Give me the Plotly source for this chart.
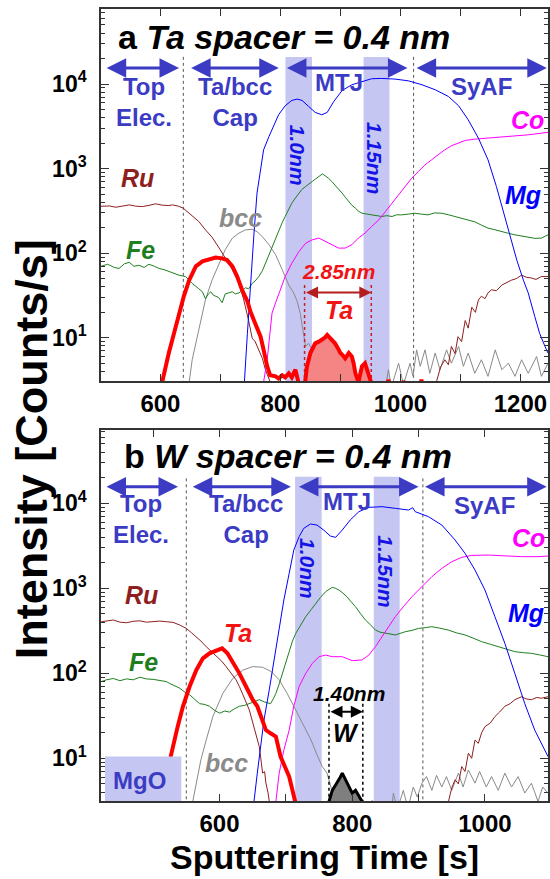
import numpy as np
import plotly.graph_objects as go

# ---------------- Panel a (Ta spacer) ----------------
RU_A_X = [480, 501, 515, 526, 537, 548, 559, 570, 581, 592, 603, 614, 620, 630, 638, 648, 656, 664, 675, 686, 698, 708, 720, 731, 739, 747, 753, 758, 764, 770, 775, 783, 795,
          1050, 1060, 1067, 1074, 1080, 1085, 1091, 1096, 1102, 1108, 1113, 1119, 1125, 1130, 1135, 1141, 1146, 1152, 1160, 1169, 1177, 1185, 1193, 1202, 1210, 1218, 1226, 1235, 1246]
RU_A_Y = [356, 356, 362, 350, 365, 373, 360, 356, 368, 384, 370, 366, 373, 360, 341, 297, 265, 237, 189, 155, 115, 87, 64, 44, 28, 16, 9.9, 9.0, 7.2, 5.7, 4.2, 3.0, 2.0,
          2.0, 3.0, 4.5, 5.5, 4.8, 7.9, 6.5, 10.3, 9.0, 16, 13, 23, 20, 28, 31, 29, 34, 37, 36, 42, 45, 48, 50, 55, 52, 51, 49, 53, 53]

FE_A_X = [501, 512, 523, 531, 540, 548, 556, 564, 573, 581, 590, 598, 606, 614, 623, 631, 642, 653, 664, 670, 675, 680, 684, 688, 692, 697, 703, 708, 714, 720,
          725, 731, 736, 742, 747, 753, 758, 764, 770, 775, 781, 786, 792, 797, 803, 808, 814, 819, 825, 831, 836, 842, 847, 853, 858, 864, 870, 875, 880, 886,
          891, 897, 903, 908, 914, 919, 925, 930, 936, 944, 952, 960, 969, 977, 986, 994, 1002, 1013, 1024, 1035, 1046, 1057, 1069, 1080, 1091, 1102, 1113, 1124,
          1135, 1146, 1157, 1168, 1180, 1191, 1202, 1213, 1224, 1235, 1246]
FE_A_Y = [70, 74, 68, 66, 75, 78, 70, 72, 68, 74, 70, 66, 64, 61, 58, 55, 53, 44, 38, 35, 29, 33, 35, 32, 31, 30, 26, 33, 34, 35,
          33, 34, 36, 39, 38, 44, 47, 53, 62, 76, 95, 120, 150, 189, 230, 272, 330, 391, 450, 513, 570, 615, 660, 705, 750, 807, 868, 820, 772, 700,
          644, 580, 513, 460, 408, 370, 341, 315, 297, 290, 284, 280, 272, 278, 272, 285, 284, 290, 297, 290, 284, 300, 297, 285, 272, 262, 245, 235,
          215, 198, 190, 180, 172, 165, 160, 157, 150, 151, 165]

BCC_A_X = [640, 648, 653, 659, 667, 675, 686, 698, 708, 720, 731, 742, 753, 761, 770, 781, 792, 803, 814, 822, 828, 833, 836, 839, 842, 847, 853, 861, 869, 875,
           880, 889, 897, 903, 911, 920, 960, 975, 980, 985, 997, 1005, 1016, 1021, 1027, 1033, 1041, 1049, 1058, 1066, 1077, 1085, 1097, 1105, 1113, 1124,
           1135, 1146, 1158, 1169, 1180, 1191, 1202, 1213, 1227, 1235, 1246]
BCC_A_Y = [2, 3.0, 5.5, 8.6, 16, 28, 48, 76, 110, 151, 173, 189, 192, 180, 157, 126, 96, 64, 42, 34, 27, 19.5, 14, 11.3, 7.9, 8.6, 7.2, 8.6, 7.2, 4.6,
           5.5, 4.2, 3.1, 4.6, 3.1, 2.2, 2.2, 2.5, 4.2, 2.6, 5.0, 2.8, 5.0, 3.5, 7.2, 4.6, 7.2, 3.8, 6.6, 4.2, 7.2, 5.0, 7.9, 4.6, 6.6, 3.8,
           5.5, 3.5, 7.2, 4.2, 5.0, 3.5, 5.5, 3.8, 6.0, 3.5, 5.0]

CO_A_X = [770, 772, 778, 783, 786, 792, 800, 808, 819, 831, 842, 853, 864, 875, 886, 897, 908, 919, 930, 941, 952, 964, 975, 986, 997, 1008, 1019, 1030,
          1041, 1052, 1063, 1074, 1085, 1097, 1108, 1124, 1146, 1169, 1191, 1213, 1235, 1246]
CO_A_Y = [2, 3.0, 5.5, 11.3, 19.5, 26, 37, 53, 76, 105, 131, 144, 151, 137, 126, 115, 115, 126, 151, 173, 207, 248, 311, 391, 490, 615, 772, 925,
          1109, 1273, 1459, 1671, 1864, 2004, 2155, 2234, 2296, 2360, 2448, 2513, 2630, 2690]

MG_A_X = [735, 740, 745, 750, 756, 761, 767, 772, 781, 789, 797, 808, 819, 828, 836, 847, 858, 869, 878, 889, 903, 919, 936, 952, 969, 991, 1013, 1036,
          1058, 1080, 1097, 1113, 1130, 1146, 1160, 1171, 1182, 1194, 1205, 1213, 1224, 1232, 1241, 1246]
MG_A_Y = [2, 3.0, 11.3, 44, 173, 513, 1062, 1671, 2404, 3304, 4336, 5546, 6412, 6643, 6412, 5445, 4624, 4336, 4624, 6237, 8414, 9816, 10760, 11570, 11670,
          11460, 10940, 9816, 8570, 7141, 5546, 3786, 2296, 1273, 615, 326, 173, 83, 48, 34, 17.8, 11.3, 7.9, 6.6]

TA_A_X = [590, 603, 614, 623, 631, 639, 648, 659, 670, 681, 692, 703, 711, 720, 728, 736, 745, 750, 756, 761, 767, 772, 778, 783, 792, 797, 803, 808, 814,
          819, 825, 830, 835, 840, 844, 850, 854, 858, 864, 869, 874, 878, 883, 887, 891, 896, 900, 904, 908, 914, 919, 922, 925, 930, 936, 941, 947, 951,
          955, 975, 980, 985, 1000, 1005, 1012, 1030, 1035, 1040, 1250]
TA_A_Y = [2, 3.0, 6.6, 11.3, 19.5, 31, 48, 70, 80, 85, 89, 87, 83, 70, 53, 37, 27, 20.4, 16.3, 13.6, 10.3, 7.2, 4.6, 3.6, 3.5, 3.3, 3.6, 3.4, 3.8,
          3.4, 4.2, 3.0, 2.0, 2.5, 4.5, 6.6, 7.5, 8.6, 9.0, 9.4, 10, 10.8, 9.9, 9.5, 8.6, 7.5, 6.6, 6.2, 5.7, 6.6, 6.0, 5.0, 3.8, 3.0, 4.6, 5.0, 3.8, 3.0,
          2.0, 2.0, 3.2, 2.2, 2.0, 3.1, 2.2, 2.0, 3.2, 2.0, 2.0]
TA_A_WINDOW = [840, 951]   # 2.85 nm Ta spacer region

# ---------------- Panel b (W spacer) ----------------
RU_B_X = [422, 430, 440, 450, 460, 470, 480, 490, 500, 510, 520, 530, 540, 550, 558, 565, 572, 580, 588, 595, 603, 610, 618, 625, 630, 635, 640, 645,
          652, 656, 660, 663, 665, 668, 670, 673, 676, 680,
          940, 945, 950, 955, 960, 965, 970, 975, 980, 985, 990, 995, 1000, 1008, 1015, 1022, 1030, 1038, 1045, 1055, 1062, 1070, 1078, 1085, 1095]
RU_B_Y = [405, 415, 424, 400, 394, 410, 415, 400, 405, 412, 405, 398, 371, 338, 300, 270, 240, 206, 180, 157, 140, 120, 100, 84, 70, 58, 46, 37,
          24, 18, 13.7, 9, 6.7, 7, 5.1, 4, 2.8, 2,
          2, 3.1, 4.5, 5.6, 5, 8.0, 7, 11.5, 10, 16.4, 15, 20, 23.6, 26, 31, 35, 41, 44, 49, 53, 50, 49, 52, 51, 53]

FE_B_X = [422, 430, 440, 450, 460, 470, 480, 490, 500, 510, 520, 525, 532, 540, 548, 555, 562, 570, 578, 585, 592, 600, 608, 615, 622, 630, 638, 645,
          652, 660, 668, 677, 681, 685, 690, 695, 700, 705, 710, 715, 722, 730, 738, 745, 752, 760, 765, 770, 775, 780, 786, 792, 798, 805, 812, 820,
          828, 835, 842, 850, 858, 865, 872, 880, 890, 900, 910, 920, 932, 945, 957, 970, 982, 995, 1008, 1020, 1032, 1045, 1058, 1070, 1082, 1095]
FE_B_Y = [80, 84, 87, 82, 86, 84, 90, 86, 85, 82, 80, 76, 72, 67, 60, 56, 50, 44, 43, 41, 37, 34, 36, 35, 38, 41, 42, 44,
          46, 49, 46, 44, 50, 58, 75, 100, 140, 188, 240, 296, 370, 465, 560, 667, 780, 915, 980, 1028, 1000, 956, 880, 797, 700, 608, 510, 424,
          370, 323, 305, 296, 290, 283, 295, 309, 320, 338, 345, 354, 340, 323, 300, 283, 260, 236, 220, 206, 192, 180, 175, 172, 165, 157]

BCC_B_X = [555, 560, 565, 572, 580, 590, 605, 620, 635, 650, 665, 678, 690, 702, 715, 728, 738, 748, 755, 762, 768, 772, 780, 825, 830, 835, 858, 862,
           868, 877, 884, 892, 898, 905, 912, 920, 927, 935, 942, 950, 960, 967, 975, 985, 992, 1002, 1010, 1020, 1030, 1040, 1050, 1060, 1070, 1080, 1087, 1095]
BCC_B_Y = [2, 3.1, 5.1, 9.6, 16.4, 31, 58, 87, 109, 120, 118, 105, 84, 58, 37, 23.6, 16.4, 10.5, 8.0, 6.7, 4.6, 3.1, 2.0, 2.0, 3.2, 2.0, 2.0, 3.9,
           2.5, 4.2, 2.6, 4.6, 3.5, 5.1, 6.1, 4.2, 6.3, 4.6, 6.1, 4.2, 6.7, 4.6, 7.3, 5.1, 7.0, 4.6, 6.1, 4.2, 6.7, 4.6, 6.1, 3.9, 5.1, 3.1, 4.6, 3.9]

CO_B_X = [680, 685, 690, 697, 705, 712, 720, 730, 740, 750, 760, 770, 785, 800, 815, 825, 835, 845, 855, 865, 877, 890, 905, 920, 935, 950, 965, 980,
          1005, 1030, 1055, 1080, 1095]
CO_B_Y = [2, 3.1, 6.7, 12.5, 21.5, 41, 70, 100, 131, 157, 164, 157, 157, 141, 144, 164, 206, 270, 354, 465, 608, 797, 1047, 1371, 1718, 2059, 2317, 2444,
          2466, 2399, 2360, 2360, 2399]

MG_B_X = [648, 652, 657, 662, 667, 675, 682, 690, 697, 705, 712, 720, 727, 737, 747, 757, 767, 775, 785, 797, 810, 825, 845, 865, 885, 891, 895, 915,
          935, 955, 970, 985, 1000, 1015, 1030, 1045, 1060, 1075, 1085, 1095]
MG_B_Y = [2, 3.1, 6.7, 13.7, 28, 64, 144, 324, 729, 1500, 2825, 4056, 5082, 5715, 5559, 4853, 4130, 3983, 4853, 6370, 7980, 8974, 9142, 8736, 8353, 8900,
          7980, 6965, 5559, 3707, 2582, 1644, 956, 465, 225, 100, 44, 21.5, 15, 10.5]

TA_B_X = [490, 500, 510, 520, 527, 532, 537, 545, 555, 565, 575, 585, 595, 604, 612, 620, 630, 640, 650, 657, 662, 670, 677, 685, 692, 700, 705, 710, 715, 720]
TA_B_Y = [2, 3.2, 4, 6, 10.9, 16.4, 23.6, 41, 70, 109, 150, 172, 185, 197, 172, 137, 100, 70, 49, 41, 31, 21.5, 19.7, 18, 10.5, 7.6, 6.1, 4.2, 3.1, 2]

W_B_X = [760, 765, 770, 777, 782, 785, 790, 795, 800, 805, 810, 815, 818]
W_B_Y = [2, 3.1, 4.2, 5.1, 6.0, 6.7, 5.6, 4.6, 3.9, 4.2, 3.6, 3.1, 2]
W_B_WINDOW = [765, 816]   # 1.40 nm W spacer region

for a, b in [(RU_A_X, RU_A_Y), (FE_A_X, FE_A_Y), (BCC_A_X, BCC_A_Y), (CO_A_X, CO_A_Y), (MG_A_X, MG_A_Y), (TA_A_X, TA_A_Y),
             (RU_B_X, RU_B_Y), (FE_B_X, FE_B_Y), (BCC_B_X, BCC_B_Y), (CO_B_X, CO_B_Y), (MG_B_X, MG_B_Y), (TA_B_X, TA_B_Y), (W_B_X, W_B_Y)]:
    assert len(a) == len(b), (len(a), len(b))

# ---------------- styling ----------------
FONT = "Liberation Sans, Arial, sans-serif"
C_RU = "#8f1f1f"
C_FE = "#1f7f1f"
C_BCC = "#8a8a8a"
C_CO = "#ff00ff"
C_MG = "#0000ff"
C_TA = "#ff0000"
C_LBL = "#3b3bc4"
C_BAND = "#c6c6f3"

fig = go.Figure()

def line(x, y, color, width, xa, ya, **kw):
    fig.add_trace(go.Scatter(x=x, y=y, mode="lines", line=dict(color=color, width=width),
                             xaxis=xa, yaxis=ya, showlegend=False, hoverinfo="skip", **kw))

def window(x, y, lo, hi):
    x = np.asarray(x, float); y = np.asarray(y, float)
    m = (x >= lo) & (x <= hi)
    return x[m], y[m]

# panel a traces
line(BCC_A_X, BCC_A_Y, C_BCC, 1, "x", "y")
line(RU_A_X, RU_A_Y, C_RU, 1, "x", "y")
line(FE_A_X, FE_A_Y, C_FE, 1, "x", "y")
line(CO_A_X, CO_A_Y, C_CO, 1, "x", "y")
line(MG_A_X, MG_A_Y, C_MG, 1, "x", "y")
fx, fy = window(TA_A_X, TA_A_Y, *TA_A_WINDOW)
fig.add_trace(go.Scatter(x=fx, y=fy, mode="none", fill="tozeroy", fillcolor="#f58585",
                         xaxis="x", yaxis="y", showlegend=False, hoverinfo="skip"))
line(TA_A_X, TA_A_Y, C_TA, 4, "x", "y")

# panel b traces
line(BCC_B_X, BCC_B_Y, C_BCC, 1, "x2", "y2")
line(RU_B_X, RU_B_Y, C_RU, 1, "x2", "y2")
line(FE_B_X, FE_B_Y, C_FE, 1, "x2", "y2")
line(CO_B_X, CO_B_Y, C_CO, 1, "x2", "y2")
line(MG_B_X, MG_B_Y, C_MG, 1, "x2", "y2")
line(TA_B_X, TA_B_Y, C_TA, 4, "x2", "y2")
fig.add_trace(go.Scatter(x=W_B_X, y=W_B_Y, mode="lines", fill="tozeroy", fillcolor="#7f7f7f",
                         line=dict(color="black", width=3), xaxis="x2", yaxis="y2",
                         showlegend=False, hoverinfo="skip"))

# ---------------- axes ----------------
YMAJ = [10, 100, 1000, 10000]
YMAJ_TXT = ["10<sup>1</sup>", "10<sup>2</sup>", "10<sup>3</sup>", "10<sup>4</sup>"]
YMIN = [m * 10 ** k for k in range(0, 5) for m in range(2, 10)]

def xax(rng, domain, anchor, vals):
    return dict(range=rng, domain=[0, 1], anchor=anchor, showline=True, linecolor="#333", linewidth=1.5,
                mirror="ticks", ticks="inside", ticklen=7, tickwidth=1.2, tickcolor="#333",
                tickvals=vals, ticktext=[str(v) for v in vals], showgrid=False, zeroline=False,
                tickfont=dict(family=FONT, size=24, color="black", weight="bold"), ticklabelstandoff=0,
                minor=dict(tickvals=list(range(500, 1300, 100)), ticks="inside", ticklen=7, tickcolor="#333", showgrid=False))

def yax(rng, domain, anchor):
    return dict(type="log", range=rng, domain=domain, anchor=anchor, showline=True, linecolor="#333", linewidth=1.5,
                mirror="ticks", ticks="inside", ticklen=8, tickwidth=1.2, tickcolor="#333",
                tickvals=YMAJ, ticktext=YMAJ_TXT, showgrid=False, zeroline=False,
                tickfont=dict(family=FONT, size=23, color="black", weight="bold"), ticklabelstandoff=8,
                minor=dict(tickvals=YMIN, ticks="inside", ticklen=4, tickcolor="#333", showgrid=False))

YA_RANGE = [0.489, 4.888]
YB_RANGE = [0.498, 4.863]
XA_RANGE = [501, 1246]
XB_RANGE = [421.5, 1095]

fig.update_layout(
    width=550, height=879, margin=dict(l=101, r=0, t=9, b=78),
    paper_bgcolor="white", plot_bgcolor="white",
    xaxis=xax(XA_RANGE, [0, 1], "y", [600, 800, 1000, 1200]),
    yaxis=yax(YA_RANGE, [0.5303, 1.0], "x"),
    xaxis2=xax(XB_RANGE, [0, 1], "y2", [600, 800, 1000]),
    yaxis2=yax(YB_RANGE, [0.0, 0.4684], "x2"),
)

# ---------------- shapes ----------------
shapes = []
def vband(xr, x0, x1, ytop, ybot):
    shapes.append(dict(type="rect", xref=xr, yref="y" if xr == "x" else "y2", x0=x0, x1=x1, y0=ybot, y1=ytop,
                       fillcolor=C_BAND, line=dict(width=0), layer="below"))

def vline(xr, x, y0, y1, color, width=1, dash="dot", layer="below"):
    shapes.append(dict(type="line", xref=xr, yref="y" if xr == "x" else "y2", x0=x, x1=x, y0=y0, y1=y1,
                       line=dict(color=color, width=width, dash=dash), layer=layer))

ya_bot = 10 ** YA_RANGE[0]
yb_bot = 10 ** YB_RANGE[0]
vband("x", 808.4, 852.7, 20900, ya_bot)
vband("x", 938.6, 981.8, 20900, ya_bot)
vband("x2", 714, 754, 20600, yb_bot)
vband("x2", 832.5, 871.5, 20600, yb_bot)
vline("x", 638.2, 21000, ya_bot, "#555")
vline("x", 1022.0, 21000, ya_bot, "#555")
vline("x2", 550, 19700, yb_bot, "#555")
vline("x2", 906.5, 19700, yb_bot, "#555")
vline("x", 840.3, 42, ya_bot, "#c81e1e", 1.5, "dot", "above")
vline("x", 951.5, 42, ya_bot, "#c81e1e", 1.5, "dot", "above")
vline("x2", 765, 44, yb_bot, "black", 1.5, "dot", "above")
vline("x2", 816, 44, yb_bot, "black", 1.5, "dot", "above")
# MgO box
shapes.append(dict(type="rect", xref="x2", yref="y2", x0=427.5, x1=542.5, y0=yb_bot, y1=10.5,
                   fillcolor=C_BAND, line=dict(width=0), layer="above"))
fig.update_layout(shapes=shapes)

# ---------------- annotations ----------------
ann = []
def text(xr, x, ly, s, color, size, bold=True, italic=False, angle=0, xanchor="center"):
    ann.append(dict(xref=xr, yref="y" if xr == "x" else "y2", x=x, y=ly, text=s, showarrow=False,
                    textangle=angle, xanchor=xanchor, yanchor="middle",
                    font=dict(family=FONT, size=size, color=color,
                              weight="bold" if bold else "normal", style="italic" if italic else "normal")))

def darrow(xr, x0, x1, ly, color, width=3, size=1.3):
    ann.append(dict(xref=xr, yref="y" if xr == "x" else "y2", axref=xr, ayref="y" if xr == "x" else "y2",
                    x=x1, y=ly, ax=x0, ay=ly, text="", showarrow=True, arrowhead=2, arrowside="end+start",
                    arrowsize=size, arrowwidth=width, arrowcolor=color, standoff=0, startstandoff=0))

# panel a
text("x", 525.8, 4.56, "<b>a</b> <b><i>Ta spacer = 0.4 nm</i></b>", "black", 34, xanchor="left")
for x0, x1 in [(508, 631), (648.7, 797.3), (808.4, 1011.7), (1024.5, 1244)]:
    darrow("x", x0, x1, 4.189, C_LBL)
text("x", 572.8, 3.79, "Top<br>Elec.", C_LBL, 24)
text("x", 723.6, 3.79, "Ta/bcc<br>Cap", C_LBL, 24)
text("x", 897, 4.015, "MTJ", C_LBL, 24)
text("x", 1135.3, 3.968, "SyAF", C_LBL, 24)
text("x", 827.7, 3.163, "1.0nm", "#1414e6", 21, italic=True, angle=90)
text("x", 958, 3.124, "1.15nm", "#1414e6", 21, italic=True, angle=90)
text("x", 561.7, 2.891, "Ru", C_RU, 25, italic=True)
text("x", 567.3, 2.039, "Fe", C_FE, 25, italic=True)
text("x", 733.6, 2.414, "bcc", C_BCC, 25, italic=True)
text("x", 1211.7, 3.577, "Co", C_CO, 25, italic=True)
text("x", 1204.6, 2.69, "Mg", C_MG, 25, italic=True)
text("x", 897, 1.782, "2.85nm", "#f01414", 21, italic=True)
text("x", 897, 1.329, "Ta", "#f01414", 25, italic=True)
darrow("x", 840.3, 951.5, 1.535, "#b41e1e", width=2, size=1.2)

# panel b
text("x2", 452.5, 4.557, "<b>b</b> <b><i>W spacer = 0.4 nm</i></b>", "black", 34, xanchor="left")
for x0, x1 in [(427.5, 537.5), (557.5, 707.5), (717.5, 900), (907.5, 1093)]:
    darrow("x2", x0, x1, 4.196, C_LBL)
text("x2", 482.5, 3.814, "Top<br>Elec.", C_LBL, 24)
text("x2", 640, 3.814, "Ta/bcc<br>Cap", C_LBL, 24)
text("x2", 792.5, 4.02, "MTJ", C_LBL, 24)
text("x2", 1000, 3.98, "SyAF", C_LBL, 24)
text("x2", 732.5, 3.235, "1.0nm", "#1414e6", 21, italic=True, angle=90)
text("x2", 850, 3.196, "1.15nm", "#1414e6", 21, italic=True, angle=90)
text("x2", 482.5, 2.922, "Ru", C_RU, 25, italic=True)
text("x2", 485, 2.137, "Fe", C_FE, 25, italic=True)
text("x2", 627.5, 2.478, "Ta", "#f01414", 25, italic=True)
text("x2", 610, 0.941, "bcc", C_BCC, 25, italic=True)
text("x2", 480, 0.745, "MgO", C_LBL, 24)
text("x2", 1066, 3.588, "Co", C_CO, 25, italic=True)
text("x2", 1062.5, 2.706, "Mg", C_MG, 25, italic=True)
text("x2", 795, 1.765, "1.40nm", "black", 21, italic=True)
text("x2", 790, 1.294, "W", "black", 25, italic=True)
darrow("x2", 765, 816, 1.549, "black", width=2, size=1.2)

# axis titles
ann.append(dict(xref="paper", yref="paper", x=-0.1548, y=0.4438, text="Intensity [Counts/s]", showarrow=False,
                textangle=-90, xanchor="center", yanchor="middle",
                font=dict(family=FONT, size=45, color="black", weight="bold")))
ann.append(dict(xref="paper", yref="paper", x=0.4989, y=-0.0707, text="Sputtering Time [s]", showarrow=False,
                xanchor="center", yanchor="middle",
                font=dict(family=FONT, size=34, color="black", weight="bold")))
fig.update_layout(annotations=ann)

fig.write_html("out.html")
